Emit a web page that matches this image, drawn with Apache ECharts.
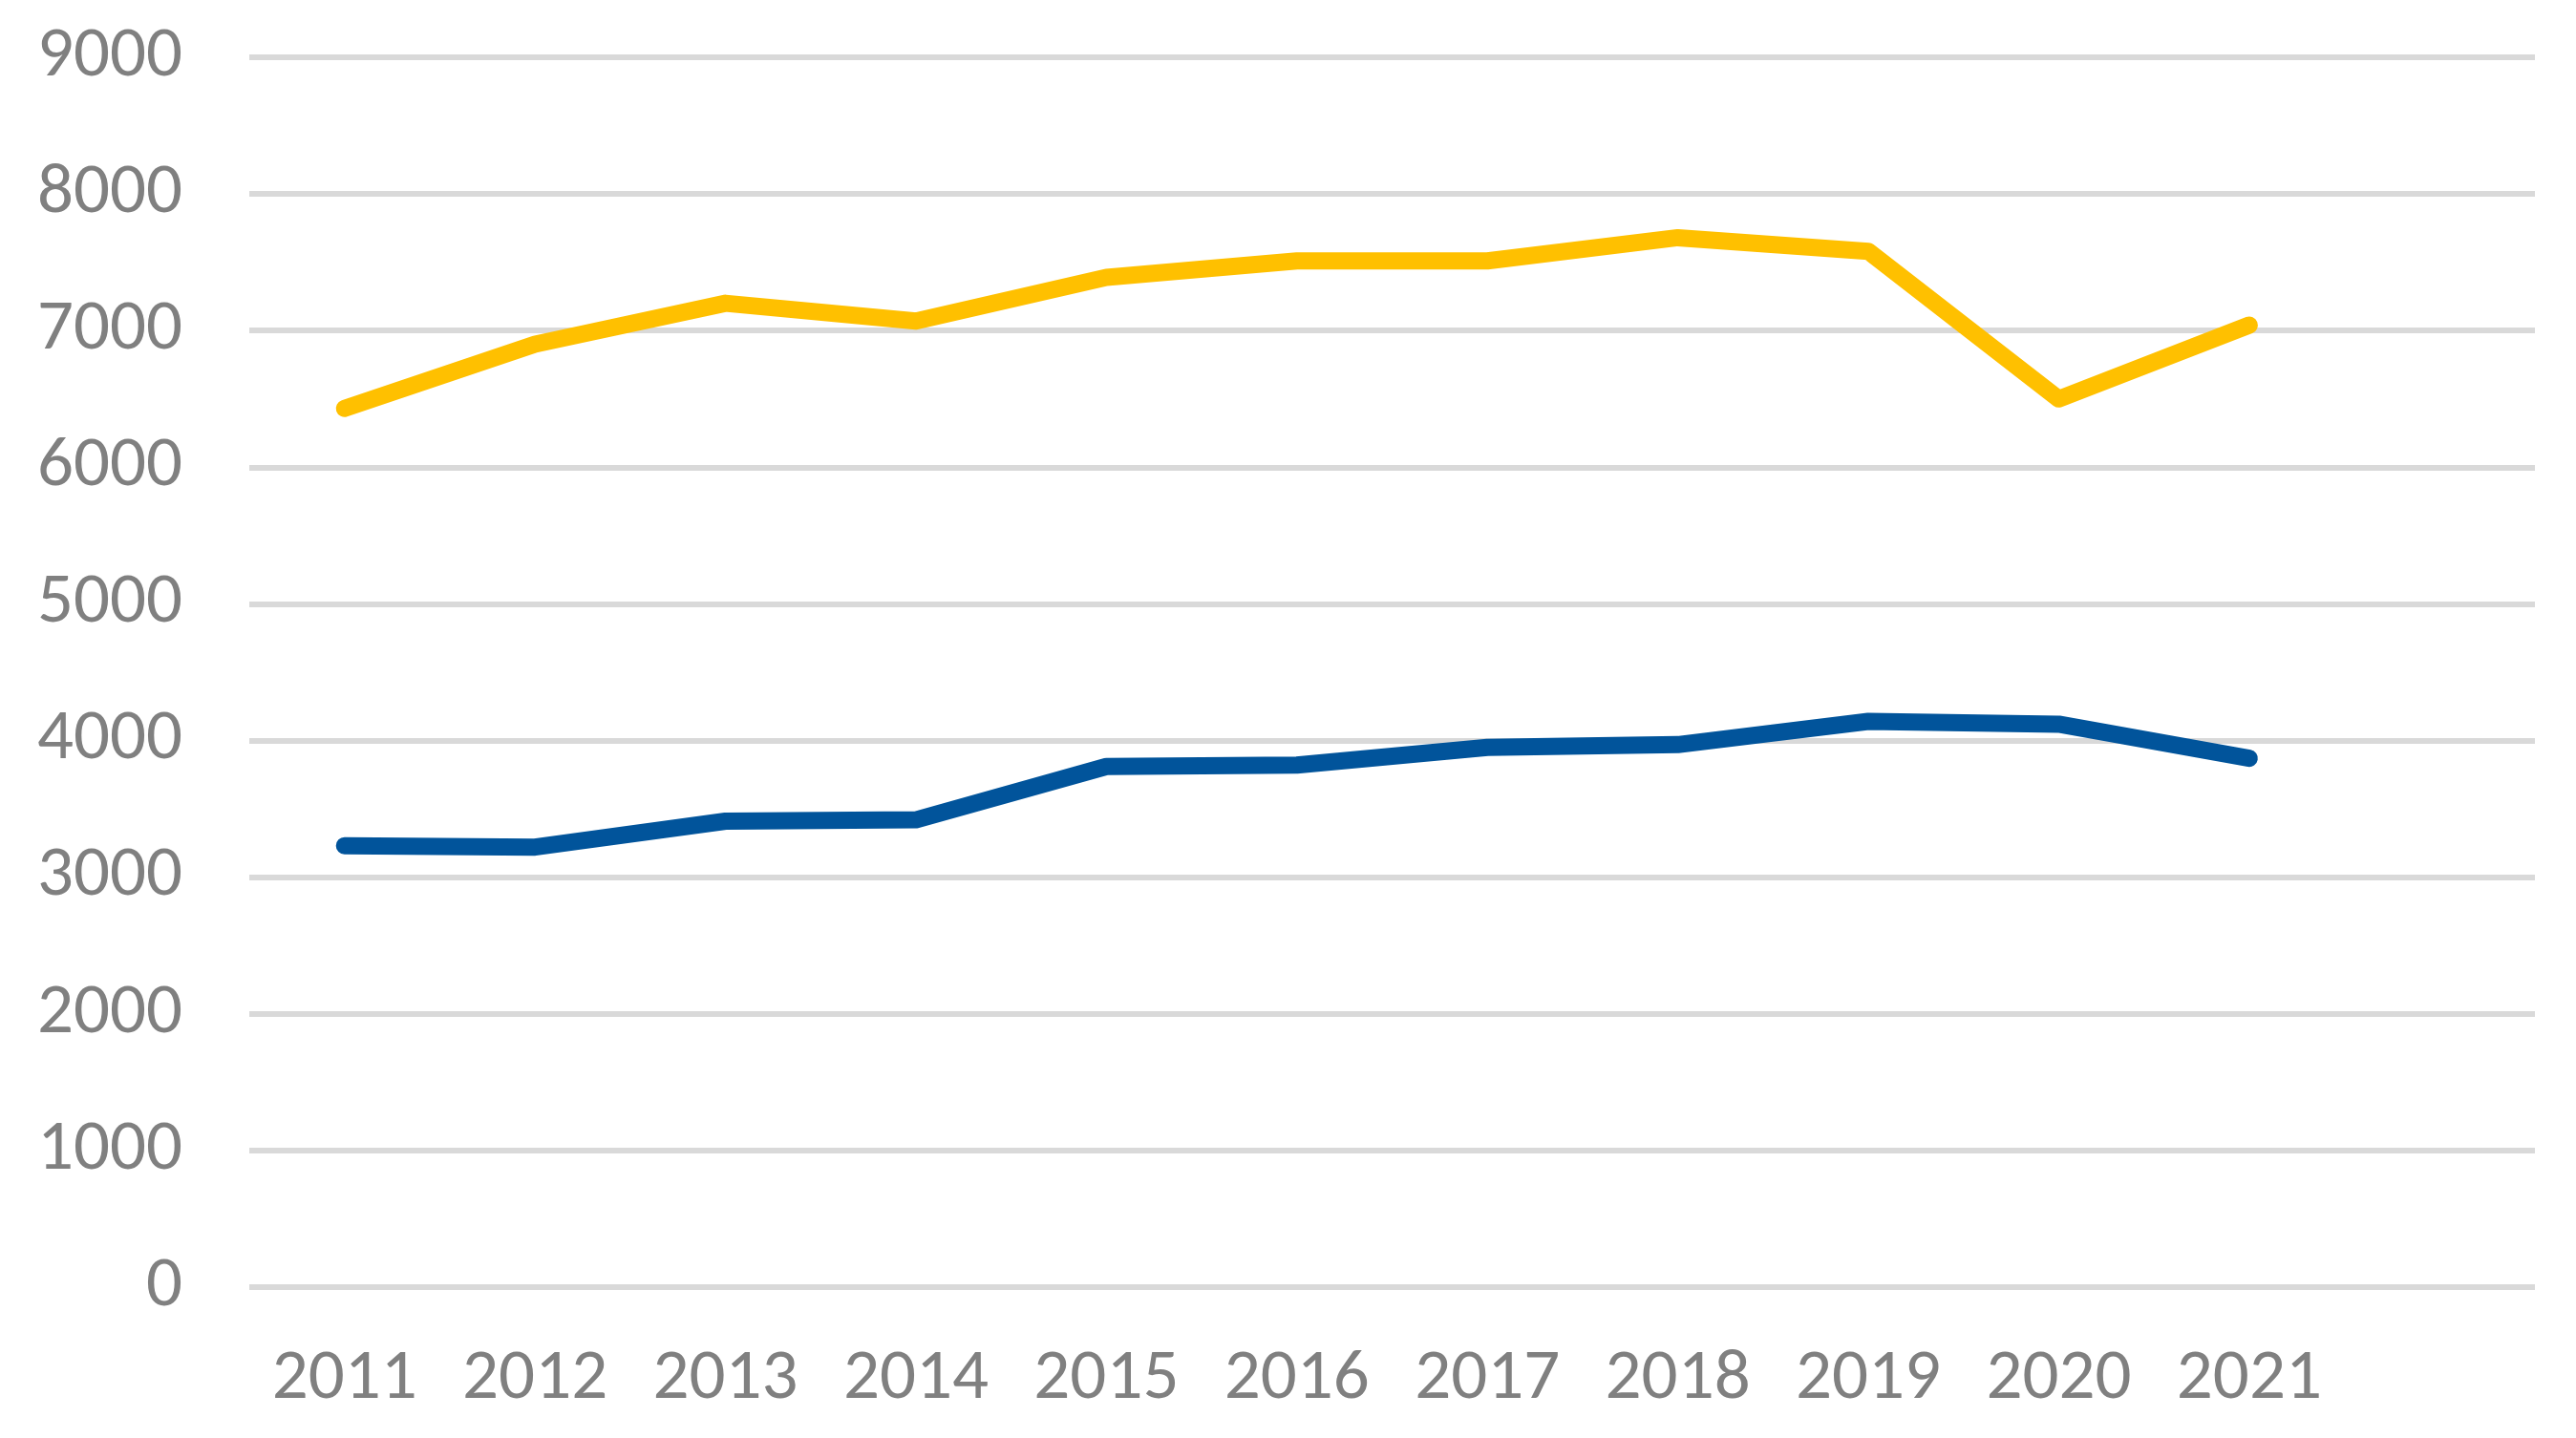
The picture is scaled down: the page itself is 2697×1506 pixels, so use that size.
<!DOCTYPE html>
<html><head><meta charset="utf-8">
<script src="https://cdn.jsdelivr.net/npm/echarts@6/dist/echarts.min.js"></script>
<style>html,body{margin:0;padding:0;background:#fff}#c{width:2697px;height:1506px}</style>
</head><body><div id="c"></div>
<script>
const categories = ['2011','2012','2013','2014','2015','2016','2017','2018','2019','2020','2021',''];
const yellowSeries = [6430, 6900, 7200, 7070, 7390, 7510, 7510, 7680, 7580, 6500, 7040];
const blueSeries = [3230, 3220, 3410, 3420, 3810, 3820, 3950, 3970, 4140, 4120, 3870];
const yTicks = {min: 0, max: 9000, interval: 1000};

const font = 'Carlito, Lato, "Open Sans", sans-serif';
const chart = echarts.init(document.getElementById('c'));
chart.setOption({
  animation: false,
  backgroundColor: '#fff',
  grid: {left: 261, right: 43, top: 60, bottom: 158},
  xAxis: {
    type: 'category', data: categories, boundaryGap: true,
    axisLine: {show: false}, axisTick: {show: false},
    axisLabel: {color: '#808080', fontSize: 75, fontFamily: font, margin: 60, interval: 0}
  },
  yAxis: {
    type: 'value', min: yTicks.min, max: yTicks.max, interval: yTicks.interval,
    axisLine: {show: false}, axisTick: {show: false},
    axisLabel: {color: '#808080', fontSize: 75, fontFamily: font, margin: 70,
      formatter: v => String(v)},
    splitLine: {lineStyle: {color: '#D9D9D9', width: 6}}
  },
  series: [
    {type: 'line', data: yellowSeries, symbol: 'none',
     lineStyle: {color: '#FFC000', width: 18, cap: 'round', join: 'round'}},
    {type: 'line', data: blueSeries, symbol: 'none',
     lineStyle: {color: '#01549B', width: 18, cap: 'round', join: 'round'}}
  ]
});
</script></body></html>
